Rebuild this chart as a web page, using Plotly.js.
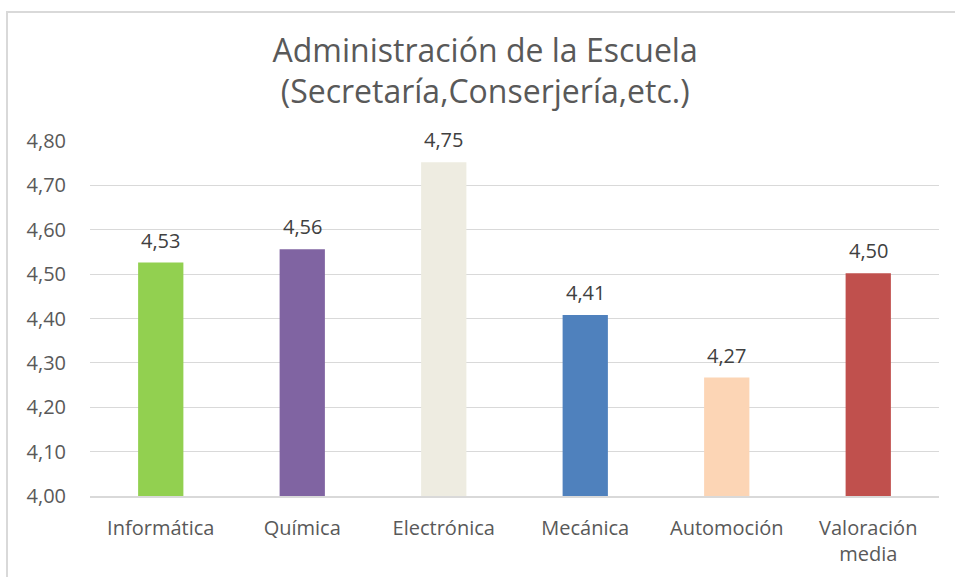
<!DOCTYPE html>
<html>
<head>
<meta charset="utf-8">
<script src="https://cdn.plot.ly/plotly-3.0.1.min.js"></script>
<style>
html,body{margin:0;padding:0;background:#fff;overflow:hidden;}
#frame{position:absolute;left:6px;top:11px;width:970px;height:600px;border:2px solid #d9d9d9;}
#chart{position:absolute;left:0;top:0;width:955px;height:577px;}
</style>
</head>
<body>
<div id="frame"></div>
<div id="chart"></div>
<script>
const categories = ["Informática", "Química", "Electrónica", "Mecánica", "Automoción", "Valoración<br>media"];
const values = [4.526, 4.556, 4.752, 4.408, 4.267, 4.502];
const barColors = ["#92D050", "#8064A2", "#EEECE1", "#4F81BD", "#FCD5B5", "#C0504D"];
const yTicks = [4.0, 4.1, 4.2, 4.3, 4.4, 4.5, 4.6, 4.7, 4.8];

const font = "Open Sans, sans-serif";
const trace = {
  type: "bar",
  x: categories,
  y: values,
  marker: {color: barColors},
  hoverinfo: "none"
};

const annotations = categories.map((c, i) => ({
  x: c, y: values[i], xref: "x", yref: "y",
  text: values[i].toFixed(2).replace(".", ","),
  showarrow: false, yanchor: "bottom", yshift: 7,
  font: {family: font, size: 20, color: "#404040"}
}));

const layout = {
  width: 955, height: 577,
  paper_bgcolor: "rgba(0,0,0,0)",
  plot_bgcolor: "rgba(0,0,0,0)",
  separators: ",.",
  margin: {l: 90, r: 16, t: 141, b: 81},
  title: {
    text: "Administración de la Escuela<br>(Secretaría,Conserjería,etc.)",
    x: 0.508, xanchor: "center", xref: "container",
    y: 0.893, yanchor: "middle", yref: "container",
    font: {family: font, size: 32, color: "#595959"}
  },
  bargap: 0.68,
  xaxis: {
    tickfont: {family: font, size: 20, color: "#595959"},
    showline: true, linecolor: "#d9d9d9", linewidth: 2,
    ticks: "", fixedrange: true,
    ticklabelstandoff: 13
  },
  yaxis: {
    range: [4.0, 4.8],
    tickvals: yTicks,
    tickformat: ".2f",
    tickfont: {family: font, size: 20, color: "#595959"},
    gridcolor: "#d9d9d9", gridwidth: 1,
    zeroline: false, showline: false, ticks: "",
    ticklabelstandoff: 23
  },
  annotations: annotations,
  showlegend: false
};

Plotly.newPlot("chart", [trace], layout, {displayModeBar: false, staticPlot: true});
</script>
</body>
</html>
